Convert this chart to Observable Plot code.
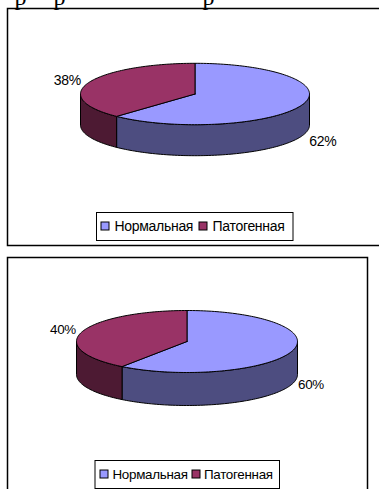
<!DOCTYPE html>
<html lang="ru">
<head>
<meta charset="utf-8">
<title>Нормальная и патогенная микрофлора</title>
<script src="https://cdn.jsdelivr.net/npm/d3@7"></script>
<script src="https://cdn.jsdelivr.net/npm/@observablehq/plot@0.6"></script>
<style>
  html, body { margin: 0; padding: 0; background: #fff; overflow: hidden; }
  svg { display: block; }
  .tight text { letter-spacing: -0.3px; }
</style>
</head>
<body>
<div id="chart"></div>
<script>
// Shares of the two flora types in each panel, in percent
const categories = ["Нормальная", "Патогенная"];
const sharesUpper = [62, 38];
const sharesLower = [60, 40];

// Top faces and the darker side walls of each category
const topColors = ["#9999ff", "#993366"];
const wallColors = ["#4d4d80", "#4d1a33"];

const FONT = "Liberation Sans, Arial, sans-serif";

// The line of body text above the first panel runs off the top of the page
const bodyTextTails = [{x: 14, t: "р"}, {x: 53, t: "р"}, {x: 202, t: "р"}];

// Layout of each panel: frame, ellipse of the disc, legend box
const panels = [
  {
    shares: sharesUpper, fontSize: 14,
    frame: [7.5, 8.5, 390, 245.5],
    cx: 194.5, cy: 93.5, rx: 114.5, ry: 30.7, depth: 31,
    legend: [96.5, 212.5, 293, 240.5], legendY: 226,
    swatchX: [101, 199], textX: [114, 212],
    labelK: 1.2, labelDy: [3, 0]
  },
  {
    shares: sharesLower, fontSize: 13.4,
    frame: [7.5, 257.5, 367.5, 500],
    cx: 186.5, cy: 341, rx: 110.5, ry: 31, depth: 33,
    legend: [95, 460.5, 279.5, 488.5], legendY: 474,
    swatchX: [100, 192], textX: [112, 203.5],
    labelK: 1.18, labelDy: [-1, 0]
  }
];

// Position on the rim; the angle is in radians, clockwise from 12 o'clock
const rim = (p, a, drop = 0) => ({
  x: p.cx + p.rx * Math.sin(a),
  y: p.cy - p.ry * Math.cos(a) + drop
});

function arc(p, a0, a1, drop = 0) {
  const n = Math.max(2, Math.ceil(Math.abs(a1 - a0) * 40));
  return d3.range(n + 1).map((i) => rim(p, a0 + (a1 - a0) * i / n, drop));
}

const polygon = (points, fill) =>
  Plot.line([...points, points[0]], {
    x: "x", y: "y", fill, stroke: "#000", strokeWidth: 1, curve: "linear"
  });

function panelMarks(p) {
  const total = d3.sum(p.shares);
  const split = p.shares[0] / total * 2 * Math.PI;
  const spans = [[0, split], [split, 2 * Math.PI]];
  const marks = [];

  marks.push(Plot.rect([p.frame], {
    x1: (d) => d[0], y1: (d) => d[1], x2: (d) => d[2], y2: (d) => d[3],
    fill: "#fff", stroke: "#000", strokeWidth: 1.5
  }));

  // Side walls: only the part of each slice on the near half of the rim
  spans.forEach(([a0, a1], i) => {
    const from = Math.max(a0, Math.PI / 2);
    const to = Math.min(a1, 3 * Math.PI / 2);
    if (to > from) {
      marks.push(polygon(
        [...arc(p, from, to), ...arc(p, to, from, p.depth)],
        wallColors[i]
      ));
    }
  });

  // Top faces
  spans.forEach(([a0, a1], i) => {
    marks.push(polygon([{x: p.cx, y: p.cy}, ...arc(p, a0, a1)], topColors[i]));
  });

  // Percentage labels next to the middle of each slice
  const labels = spans.map(([a0, a1], i) => {
    const mid = (a0 + a1) / 2;
    const near = Math.cos(mid) < 0;
    return {
      x: p.cx + p.rx * p.labelK * Math.sin(mid),
      y: p.cy - p.ry * p.labelK * Math.cos(mid) + (near ? p.depth : 0) + p.labelDy[i],
      text: `${p.shares[i]}%`
    };
  });
  marks.push(Plot.text(labels, {
    x: "x", y: "y", text: "text", fill: "#000",
    fontSize: p.fontSize, fontFamily: FONT, textAnchor: "middle",
    className: "tight"
  }));

  // Legend
  marks.push(Plot.rect([p.legend], {
    x1: (d) => d[0], y1: (d) => d[1], x2: (d) => d[2], y2: (d) => d[3],
    fill: "#fff", stroke: "#000", strokeWidth: 1
  }));
  categories.forEach((name, i) => {
    marks.push(Plot.rect([name], {
      x1: () => p.swatchX[i], x2: () => p.swatchX[i] + 8,
      y1: () => p.legendY - 4, y2: () => p.legendY + 4,
      fill: topColors[i], stroke: "#000", strokeWidth: 1
    }));
    marks.push(Plot.text([name], {
      x: () => p.textX[i], y: () => p.legendY, text: (d) => d,
      textAnchor: "start", fill: "#000",
      fontSize: p.fontSize, fontFamily: FONT,
      className: "tight"
    }));
  });
  return marks;
}

const figure = Plot.plot({
  width: 379,
  height: 489,
  margin: 0,
  x: {type: "identity", axis: null},
  y: {type: "identity", axis: null},
  marks: [
    panels.map(panelMarks),
    Plot.text(bodyTextTails, {
      x: "x", y: () => -3, text: "t", textAnchor: "start",
      fontSize: 24, fontFamily: "Liberation Serif, Times New Roman, serif", fill: "#000"
    })
  ]
});
figure.style.background = "#fff";
document.getElementById("chart").append(figure);
</script>
</body>
</html>
